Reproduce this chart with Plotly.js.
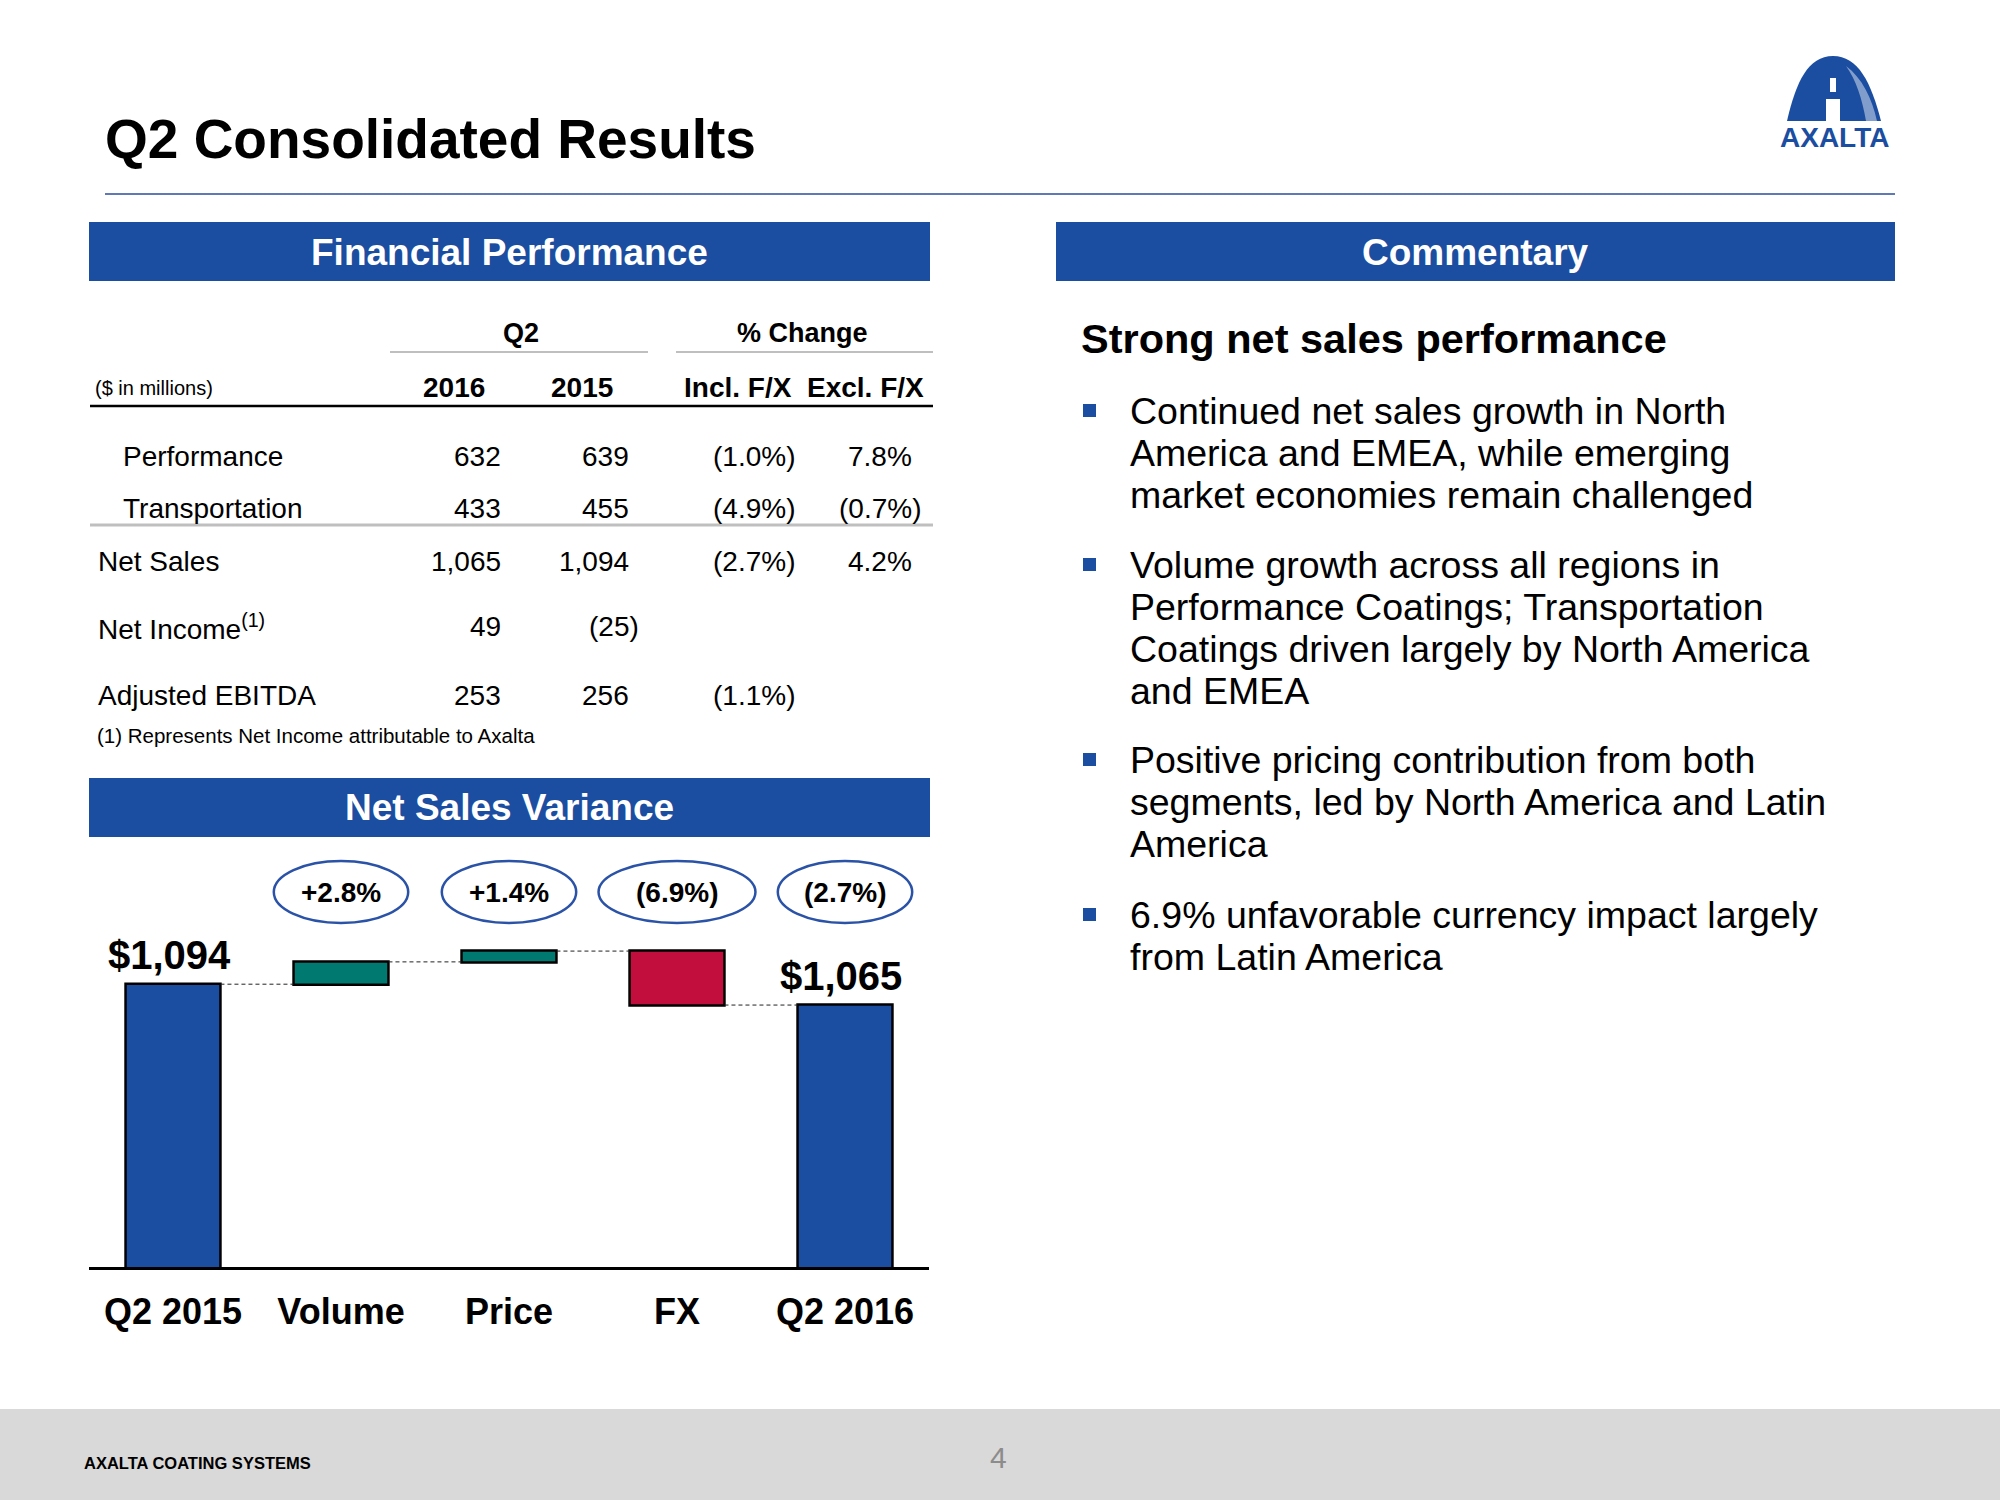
<!DOCTYPE html>
<html><head><meta charset="utf-8">
<script src="https://cdn.plot.ly/plotly-3.0.1.min.js"></script>
<style>html,body{margin:0;padding:0;background:#fff}#chart{width:2000px;height:1500px}</style>
</head><body><div id="chart"></div>
<script>
// ---------------- data ----------------
const varianceCategories = ['Q2 2015', 'Volume', 'Price', 'FX', 'Q2 2016'];
const varianceMeasures   = ['absolute', 'relative', 'relative', 'relative', 'total'];
const varianceValues     = [1094, 31, 15, -75, 0];
const varianceTotalLabels = ['$1,094', '', '', '', '$1,065'];
const variancePctLabels  = ['', '+2.8%', '+1.4%', '(6.9%)', '(2.7%)'];

const tableRowLabels = ['Performance', 'Transportation', 'Net Sales', 'Net Income<sup>(1)</sup>', 'Adjusted EBITDA'];
const tableQ2016     = ['632', '433', '1,065', '49', '253'];
const tableQ2015     = ['639', '455', '1,094', '(25)', '256'];
const tableInclFX    = ['(1.0%)', '(4.9%)', '(2.7%)', '', '(1.1%)'];
const tableExclFX    = ['7.8%', '(0.7%)', '4.2%', '', ''];
const tableColHeaders = ['2016', '2015', 'Incl. F/X', 'Excl. F/X'];
const tableGroupHeaders = ['Q2', '% Change'];
const tableUnitLabel = '($ in millions)';
const tableFootnote  = '(1) Represents Net Income attributable to Axalta';

const slideTitle = 'Q2 Consolidated Results';
const sectionTitles = ['Financial Performance', 'Commentary', 'Net Sales Variance'];
const commentaryHeading = 'Strong net sales performance';
const commentaryBullets = [
  ['Continued net sales growth in North', 'America and EMEA, while emerging', 'market economies remain challenged'],
  ['Volume growth across all regions in', 'Performance Coatings; Transportation', 'Coatings driven largely by North America', 'and EMEA'],
  ['Positive pricing contribution from both', 'segments, led by North America and Latin', 'America'],
  ['6.9% unfavorable currency impact largely', 'from Latin America']
];
const footerText = 'AXALTA COATING SYSTEMS';
const pageNumber = '4';

// ---------------- helpers ----------------
const W = 2000, H = 1500;
const FONT = 'Liberation Sans, Arial, sans-serif';
const BLUE = '#1B4DA0';
const px = x => x / W;
const py = y => 1 - y / H;
const annotations = [];
const shapes = [];
function txt(text, x, y, size, opts = {}) {
  annotations.push(Object.assign({
    text: text, x: px(x), y: py(y), xref: 'paper', yref: 'paper',
    xanchor: 'left', yanchor: 'middle', showarrow: false,
    font: {family: FONT, size: size, color: opts.color || '#000', weight: opts.bold ? 'bold' : 'normal'}
  }, opts.xanchor ? {xanchor: opts.xanchor} : {}));
}
function rect(x0, y0, x1, y1, fill, layer) {
  shapes.push({type: 'rect', xref: 'paper', yref: 'paper', x0: px(x0), x1: px(x1), y0: py(y1), y1: py(y0),
    fillcolor: fill, line: {width: 0}, layer: layer || 'below'});
}
function hline(x0, x1, y, color, width) {
  shapes.push({type: 'line', xref: 'paper', yref: 'paper', x0: px(x0), x1: px(x1), y0: py(y), y1: py(y),
    line: {color: color, width: width}, layer: 'below'});
}
function P(x, y) { return px(x) + ',' + py(y); }

// ---------------- slide frame ----------------
txt(slideTitle, 103, 139, 55, {bold: true});
hline(105, 1895, 194, '#2B4C9B', 1.5);

// logo
shapes.push({type: 'path', xref: 'paper', yref: 'paper', fillcolor: BLUE, line: {width: 0},
  path: 'M' + P(1787, 121) + ' C' + P(1796, 82) + ' ' + P(1808, 56) + ' ' + P(1833, 56) +
        ' C' + P(1858, 56) + ' ' + P(1871, 82) + ' ' + P(1881, 121) + ' Z'});
shapes.push({type: 'path', xref: 'paper', yref: 'paper', fillcolor: 'rgba(255,255,255,0.45)', line: {width: 0},
  path: 'M' + P(1846, 66) + ' C' + P(1862, 78) + ' ' + P(1872, 98) + ' ' + P(1877, 121) +
        ' L' + P(1866, 121) + ' C' + P(1862, 98) + ' ' + P(1856, 80) + ' ' + P(1846, 66) + ' Z'});
rect(1830, 78, 1836, 92, '#fff', 'above');
rect(1826, 99, 1840, 121, '#fff', 'above');
txt('AXALTA', 1834, 138, 28, {bold: true, color: BLUE, xanchor: 'center'});

// section header bars
rect(89, 222, 930, 281, BLUE);
rect(1056, 222, 1895, 281, BLUE);
rect(89, 778, 930, 837, BLUE);
txt(sectionTitles[0], 509, 252, 37, {bold: true, color: '#fff', xanchor: 'center'});
txt(sectionTitles[1], 1475, 252, 37, {bold: true, color: '#fff', xanchor: 'center'});
txt(sectionTitles[2], 509, 808, 37, {bold: true, color: '#fff', xanchor: 'center'});

// footer
rect(0, 1409, 2000, 1500, '#D9D9D9');
txt(footerText, 82, 1463, 16.5, {bold: true});
txt(pageNumber, 998, 1457, 30, {color: '#8C8C8C', xanchor: 'center'});

// ---------------- table ----------------
const groupX = [521, 802];
tableGroupHeaders.forEach((h, i) => txt(h, groupX[i], 333, 27, {bold: true, xanchor: 'center'}));
hline(390, 648, 352, '#BFBFBF', 2);
hline(676, 933, 352, '#BFBFBF', 2);
txt(tableUnitLabel, 93, 388, 20);
const colHeadX = [454, 582, 738, 865];
tableColHeaders.forEach((h, i) => txt(h, colHeadX[i], 387, 28, {bold: true, xanchor: 'center'}));
hline(90, 933, 406, '#000', 2.5);
hline(90, 933, 525, '#BFBFBF', 3);

const rowY = [456, 508, 561, 627, 695];
const rowX = [121, 121, 96, 96, 96];
const PAREN = 10;
tableRowLabels.forEach((lab, r) => {
  txt(lab, rowX[r], rowY[r], 28);
  const v16 = tableQ2016[r], v15 = tableQ2015[r];
  txt(v16, 503 + (v16[0] === '(' ? PAREN : 0), rowY[r], 28, {xanchor: 'right'});
  txt(v15, 631 + (v15[0] === '(' ? PAREN : 0), rowY[r], 28, {xanchor: 'right'});
  if (tableInclFX[r]) txt(tableInclFX[r], 754, rowY[r], 28, {xanchor: 'center'});
  if (tableExclFX[r]) txt(tableExclFX[r], 880, rowY[r], 28, {xanchor: 'center'});
});
txt(tableFootnote, 95, 736, 20.5);

// ---------------- commentary ----------------
txt(commentaryHeading, 1079, 338, 41.5, {bold: true});
const bulletStartY = [411, 565, 760, 915];
const LINE = 42;
commentaryBullets.forEach((lines, b) => {
  const y0 = bulletStartY[b];
  rect(1083, y0 - 7, 1096, y0 + 6, BLUE, 'above');
  lines.forEach((ln, k) => txt(ln, 1128, y0 + k * LINE, 37.5));
});

// ---------------- waterfall ----------------
const cum = [];
let run = 0;
varianceValues.forEach((v, i) => {
  if (varianceMeasures[i] === 'absolute') run = v;
  else if (varianceMeasures[i] === 'relative') run += v;
  cum.push(run);
});
varianceTotalLabels.forEach((t, i) => {
  if (!t) return;
  annotations.push({text: t, x: varianceCategories[i], y: cum[i], xref: 'x2', yref: 'y2',
    xanchor: 'center', yanchor: 'middle', yshift: 29, xshift: -4, showarrow: false,
    font: {family: FONT, size: 40, color: '#000', weight: 'bold'}});
});
variancePctLabels.forEach((t, i) => {
  if (!t) return;
  const hw = t.length > 5 && varianceMeasures[i] !== 'total' ? 0.467 : 0.40;
  shapes.push({type: 'circle', xref: 'x2', yref: 'paper', x0: i - hw, x1: i + hw,
    y0: py(923), y1: py(861), line: {color: '#2A52A6', width: 2.5}, fillcolor: 'rgba(0,0,0,0)'});
  annotations.push({text: t, x: varianceCategories[i], y: py(892), xref: 'x2', yref: 'paper',
    xanchor: 'center', yanchor: 'middle', showarrow: false,
    font: {family: FONT, size: 28, color: '#000', weight: 'bold'}});
});

const trace = {
  type: 'waterfall', x: varianceCategories, y: varianceValues, measure: varianceMeasures,
  xaxis: 'x2', yaxis: 'y2', textinfo: 'none', hoverinfo: 'skip',
  increasing: {marker: {color: '#007A70', line: {color: '#000', width: 2.5}}},
  decreasing: {marker: {color: '#C20E3C', line: {color: '#000', width: 2.5}}},
  totals: {marker: {color: BLUE, line: {color: '#000', width: 2.5}}},
  connector: {mode: 'between', line: {color: '#222', width: 1, dash: '4px,3px'}}
};

const layout = {
  width: W, height: H, margin: {l: 0, r: 0, t: 0, b: 0},
  paper_bgcolor: '#fff', plot_bgcolor: 'rgba(0,0,0,0)', showlegend: false,
  waterfallgap: 0.435,
  xaxis2: {domain: [px(89), px(929)], anchor: 'y2', type: 'category',
    showline: true, linecolor: '#000', linewidth: 3, ticks: '', showgrid: false, zeroline: false,
    tickfont: {family: FONT, size: 36, color: '#000', weight: 'bold'}, ticklabelstandoff: 11, fixedrange: true},
  yaxis2: {domain: [py(1267), py(900)], anchor: 'x2', range: [701, 1211], visible: false, fixedrange: true},
  shapes: shapes, annotations: annotations
};
Plotly.newPlot('chart', [trace], layout, {displayModeBar: false, staticPlot: true});
</script></body></html>
